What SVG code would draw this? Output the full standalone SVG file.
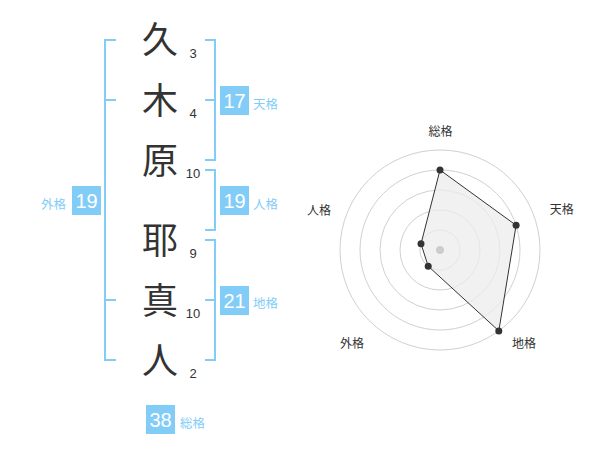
<svg xmlns="http://www.w3.org/2000/svg" width="600" height="470" viewBox="0 0 600 470">
<style>
.k{font-family:"Noto Sans CJK JP","Noto Sans",sans-serif;font-size:36px;fill:#333;text-anchor:middle}
.s{font-family:"Liberation Sans",Arial,sans-serif;font-size:13px;fill:#333;text-anchor:middle}
.br{fill:none;stroke:#82ccf8;stroke-width:2}
.bx{fill:#82ccf8}
.bn{font-family:"Liberation Sans",Arial,sans-serif;font-size:20px;fill:#fff;text-anchor:middle}
.lb{font-family:"Noto Sans CJK JP","Noto Sans",sans-serif;font-size:12.5px;fill:#82ccf8}
.ring{fill:none;stroke:#d0d0d0;stroke-width:1}
.rl{font-family:"Noto Sans CJK JP","Noto Sans",sans-serif;font-size:12px;fill:#333;text-anchor:middle}
.pt{fill:#333}
</style>
<rect width="600" height="470" fill="#fff"/>
<g id="connectors">
<path class="br" d="M116,40H105V360H116M105,100H116M105,300H116"/>
<path class="br" d="M205,40H215V160H205M205,100H215"/>
<path class="br" d="M205,170H215V230H205"/>
<path class="br" d="M205,240H215V360H205M205,300H215"/>
</g>
<g id="char1"><text class="k" x="160" y="53">久</text><text class="s" x="193" y="58">3</text></g>
<g id="char2"><text class="k" x="160" y="114">木</text><text class="s" x="193" y="118">4</text></g>
<g id="char3"><text class="k" x="160" y="174">原</text><text class="s" x="193" y="178">10</text></g>
<g id="char4"><text class="k" x="160" y="254">耶</text><text class="s" x="193" y="258">9</text></g>
<g id="char5"><text class="k" x="160" y="314">真</text><text class="s" x="193" y="318">10</text></g>
<g id="char6"><text class="k" x="160" y="374">人</text><text class="s" x="193" y="378">2</text></g>
<g id="tenkaku"><rect class="bx" x="220" y="86" width="29" height="29"/><text class="bn" x="234.5" y="108">17</text><text class="lb" x="253" y="108.5">天格</text></g>
<g id="jinkaku"><rect class="bx" x="220" y="186" width="29" height="29"/><text class="bn" x="234.5" y="208">19</text><text class="lb" x="253" y="208.5">人格</text></g>
<g id="chikaku"><rect class="bx" x="220" y="286" width="29" height="29"/><text class="bn" x="234.5" y="308">21</text><text class="lb" x="253" y="308">地格</text></g>
<g id="gaikaku"><rect class="bx" x="72" y="186" width="29" height="29"/><text class="bn" x="86.5" y="208">19</text><text class="lb" x="66" y="208.5" text-anchor="end">外格</text></g>
<g id="soukaku"><rect class="bx" x="146" y="405" width="29" height="29"/><text class="bn" x="160.5" y="427">38</text><text class="lb" x="180" y="427.5">総格</text></g>
<g id="radar">
<circle class="ring" cx="440" cy="250" r="20"/>
<circle class="ring" cx="440" cy="250" r="40"/>
<circle class="ring" cx="440" cy="250" r="60"/>
<circle class="ring" cx="440" cy="250" r="80"/>
<circle class="ring" cx="440" cy="250" r="100"/>
<polygon points="440,170 516.1,225.3 498.8,330.9 428.2,266.2 421,243.8" fill="#ececec" fill-opacity="0.75" stroke="#333" stroke-width="1"/>
<circle cx="440" cy="250" r="4" fill="#ccc"/>
<circle class="pt" cx="440" cy="170" r="3.5"/>
<circle class="pt" cx="516.1" cy="225.3" r="3.5"/>
<circle class="pt" cx="498.8" cy="330.9" r="3.5"/>
<circle class="pt" cx="428.2" cy="266.2" r="3.5"/>
<circle class="pt" cx="421" cy="243.8" r="3.5"/>
<text class="rl" x="440.5" y="136">総格</text>
<text class="rl" x="561.7" y="213.5">天格</text>
<text class="rl" x="524" y="347.5">地格</text>
<text class="rl" x="352" y="347.5">外格</text>
<text class="rl" x="319" y="214.5">人格</text>
</g>
</svg>
